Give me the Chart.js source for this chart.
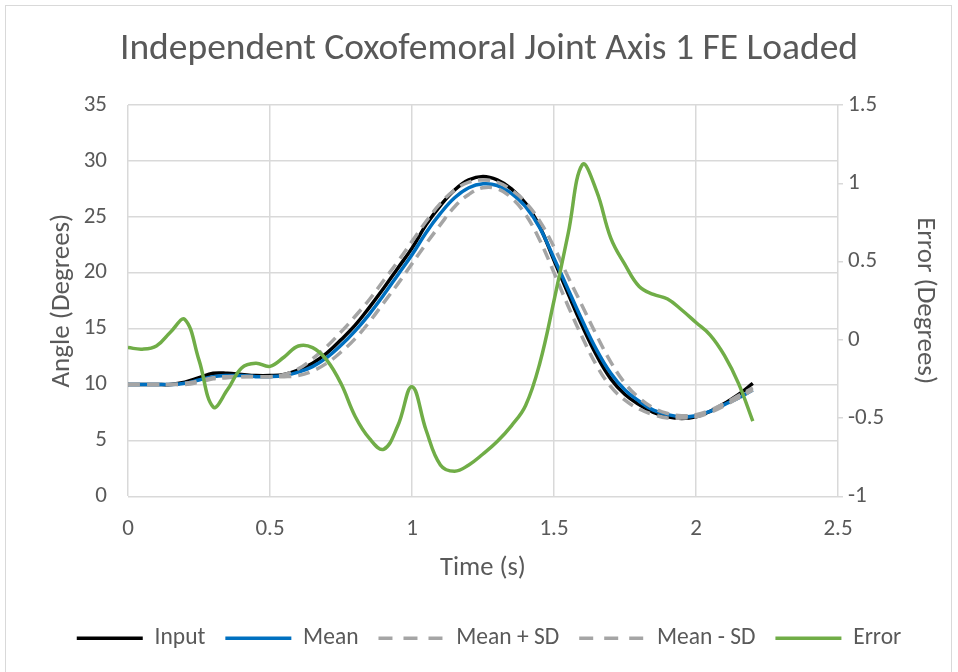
<!DOCTYPE html>
<html>
<head>
<meta charset="utf-8">
<script src="https://cdn.jsdelivr.net/npm/chart.js@4.4.1/dist/chart.umd.min.js"></script>
<style>
  html, body { margin: 0; padding: 0; background: #fff; }
</style>
</head>
<body>
<canvas id="myChart" width="958" height="672"></canvas>
<script>
// time (s)
const times = [0, 0.05, 0.1, 0.15, 0.2, 0.25, 0.3, 0.35, 0.4, 0.45, 0.5, 0.55, 0.6, 0.65, 0.7, 0.75, 0.8, 0.85, 0.9, 0.95,
  1.0, 1.05, 1.1, 1.15, 1.2, 1.25, 1.3, 1.35, 1.4, 1.45, 1.5, 1.55, 1.6, 1.65, 1.7, 1.75, 1.8, 1.85, 1.9, 1.95,
  2.0, 2.05, 2.1, 2.15, 2.2];

// angles (degrees), left axis
const inputAngle = [10.0, 10.0, 10.0, 10.0, 10.2, 10.6, 11.0, 11.0, 10.9, 10.8, 10.8, 10.9, 11.3, 11.9, 12.8, 14.0, 15.3, 16.9, 18.6, 20.4,
  22.2, 24.3, 26.0, 27.4, 28.3, 28.6, 28.3, 27.5, 26.2, 24.1, 21.1, 18.1, 15.2, 12.6, 10.5, 9.1, 8.2, 7.5, 7.1, 6.95,
  7.1, 7.6, 8.3, 9.1, 10.1];
const meanAngle = [10.0, 10.0, 10.0, 10.0, 10.1, 10.4, 10.7, 10.8, 10.8, 10.7, 10.7, 10.8, 11.1, 11.6, 12.4, 13.5, 14.8, 16.3, 18.0, 19.8,
  21.6, 23.6, 25.3, 26.7, 27.6, 27.95, 27.8, 27.1, 25.9, 24.0, 21.3, 18.5, 15.7, 13.1, 11.0, 9.5, 8.5, 7.7, 7.3, 7.1,
  7.2, 7.6, 8.2, 8.8, 9.5];
const meanPlusSD = [10.0, 10.0, 10.0, 10.0, 10.1, 10.3, 10.6, 10.7, 10.7, 10.7, 10.7, 10.9, 11.4, 12.3, 13.4, 14.7, 16.1, 17.6, 19.3, 21.0,
  22.8, 24.6, 26.2, 27.4, 28.1, 28.3, 28.1, 27.4, 26.3, 24.6, 22.3, 19.6, 17.0, 14.4, 12.0, 10.1, 8.8, 7.9, 7.4, 7.2,
  7.3, 7.7, 8.3, 9.0, 9.7];
const meanMinusSD = [10.0, 10.0, 10.0, 10.0, 10.0, 10.2, 10.5, 10.6, 10.7, 10.7, 10.7, 10.7, 10.8, 11.2, 11.9, 12.9, 14.1, 15.6, 17.3, 19.0,
  20.8, 22.6, 24.3, 25.9, 27.0, 27.6, 27.5, 26.7, 25.2, 22.9, 20.0, 17.0, 14.2, 11.7, 9.8, 8.6, 7.8, 7.3, 7.0, 7.0,
  7.1, 7.5, 8.1, 8.8, 9.5];

// error (degrees), right axis
const errorDeg = [-0.05, -0.06, -0.04, 0.05, 0.13, -0.13, -0.43, -0.32, -0.18, -0.15, -0.17, -0.11, -0.04, -0.05, -0.13, -0.28, -0.49, -0.63, -0.70, -0.55,
  -0.30, -0.58, -0.80, -0.84, -0.80, -0.73, -0.65, -0.55, -0.42, -0.15, 0.25, 0.68, 1.12, 0.95, 0.65, 0.48, 0.34, 0.29, 0.26, 0.19,
  0.11, 0.03, -0.10, -0.28, -0.52];

const timeTicks = [0, 0.5, 1, 1.5, 2, 2.5];
const angleTicks = [0, 5, 10, 15, 20, 25, 30, 35];
const errorTicks = [-1, -0.5, 0, 0.5, 1, 1.5];

const FONT = 'Carlito, Calibri, Lato, sans-serif';
const TEXT = '#595959';
const GRID = '#d9d9d9';

function pts(ys) {
  return times.map((t, i) => ({ x: t, y: ys[i] }));
}

const borderPlugin = {
  id: 'outerBorder',
  beforeDraw(chart) {
    const c = chart.ctx;
    c.save();
    c.fillStyle = '#fff';
    c.fillRect(0, 0, chart.width, chart.height);
    c.strokeStyle = GRID;
    c.lineWidth = 1;
    c.strokeRect(5.5, 5.5, 946, 700);
    c.restore();
  }
};

Chart.defaults.font.family = FONT;
Chart.defaults.color = TEXT;

const legendDash = { 'Mean + SD': [14, 11], 'Mean - SD': [14, 11] };

const ctx = document.getElementById('myChart').getContext('2d');
new Chart(ctx, {
  type: 'line',
  plugins: [borderPlugin],
  data: {
    datasets: [
      { label: 'Input', data: pts(inputAngle), borderColor: '#000000', backgroundColor: '#000000', borderWidth: 3.5, yAxisID: 'y', order: 5 },
      { label: 'Mean', data: pts(meanAngle), borderColor: '#0070c0', backgroundColor: '#0070c0', borderWidth: 3.5, yAxisID: 'y', order: 4 },
      { label: 'Mean + SD', data: pts(meanPlusSD), borderColor: '#a5a5a5', backgroundColor: '#a5a5a5', borderWidth: 3.5, borderDash: [12, 7], yAxisID: 'y', order: 3 },
      { label: 'Mean - SD', data: pts(meanMinusSD), borderColor: '#a5a5a5', backgroundColor: '#a5a5a5', borderWidth: 3.5, borderDash: [12, 7], yAxisID: 'y', order: 2 },
      { label: 'Error', data: pts(errorDeg), borderColor: '#70ad47', backgroundColor: '#70ad47', borderWidth: 3.5, yAxisID: 'y1', order: 1 }
    ]
  },
  options: {
    responsive: false,
    animation: false,
    layout: { padding: { left: 20, right: 0, top: 0, bottom: 12 } },
    elements: {
      point: { radius: 0, hoverRadius: 0 },
      line: { tension: 0.4, cubicInterpolationMode: 'default', fill: false }
    },
    plugins: {
      title: {
        display: true,
        text: 'Independent Coxofemoral Joint Axis 1 FE Loaded',
        color: TEXT,
        font: { size: 37.5, weight: 'normal' },
        padding: { top: 27.5, bottom: 32.5 }
      },
      legend: {
        position: 'bottom',
        labels: {
          color: TEXT,
          font: { size: 23.5 },
          usePointStyle: true,
          pointStyle: 'line',
          pointStyleWidth: 66,
          boxWidth: 66,
          boxHeight: 20,
          padding: 20,
          sort: (a, b) => a.datasetIndex - b.datasetIndex,
          generateLabels: chart => {
            const items = Chart.defaults.plugins.legend.labels.generateLabels(chart);
            items.forEach(it => {
              const ds = chart.data.datasets[it.datasetIndex];
              it.lineDash = legendDash[ds.label] || [];
              it.lineWidth = 3.5;
              it.strokeStyle = ds.borderColor;
              it.pointStyle = 'line';
            });
            return items;
          }
        }
      },
      tooltip: { enabled: false }
    },
    scales: {
      x: {
        type: 'linear',
        min: 0,
        max: 2.5,
        afterBuildTicks: s => { s.ticks = timeTicks.map(v => ({ value: v })); },
        ticks: { color: TEXT, font: { size: 23 }, padding: 19, callback: v => String(v) },
        grid: { color: GRID, lineWidth: 1.5, drawTicks: false },
        border: { display: false },
        title: { display: true, text: 'Time (s)', color: TEXT, font: { size: 26.5 }, padding: { top: 0, bottom: 22.4 } },
        afterFit: s => { s.height = 110.25; }
      },
      y: {
        position: 'left',
        min: 0,
        max: 35,
        afterBuildTicks: s => { s.ticks = angleTicks.map(v => ({ value: v })); },
        ticks: { color: TEXT, font: { size: 23 }, padding: 21, callback: v => String(v) },
        grid: { color: GRID, lineWidth: 1.5, drawTicks: false },
        border: { display: false },
        title: { display: true, text: 'Angle (Degrees)', color: TEXT, font: { size: 27 }, padding: { top: 25.8, bottom: 0 } },
        afterFit: s => { s.width = 108; }
      },
      y1: {
        position: 'right',
        min: -1,
        max: 1.5,
        afterBuildTicks: s => { s.ticks = errorTicks.map(v => ({ value: v })); },
        ticks: { color: TEXT, font: { size: 23 }, padding: 5, callback: v => String(v) },
        grid: { drawOnChartArea: false, color: GRID, lineWidth: 1.5, drawTicks: true, tickLength: 5 },
        border: { display: false },
        title: { display: true, text: 'Error (Degrees)', color: TEXT, font: { size: 27 }, padding: { top: 16.8, bottom: 0 } },
        afterFit: s => { s.width = 120; }
      }
    }
  }
});
</script>
</body>
</html>
